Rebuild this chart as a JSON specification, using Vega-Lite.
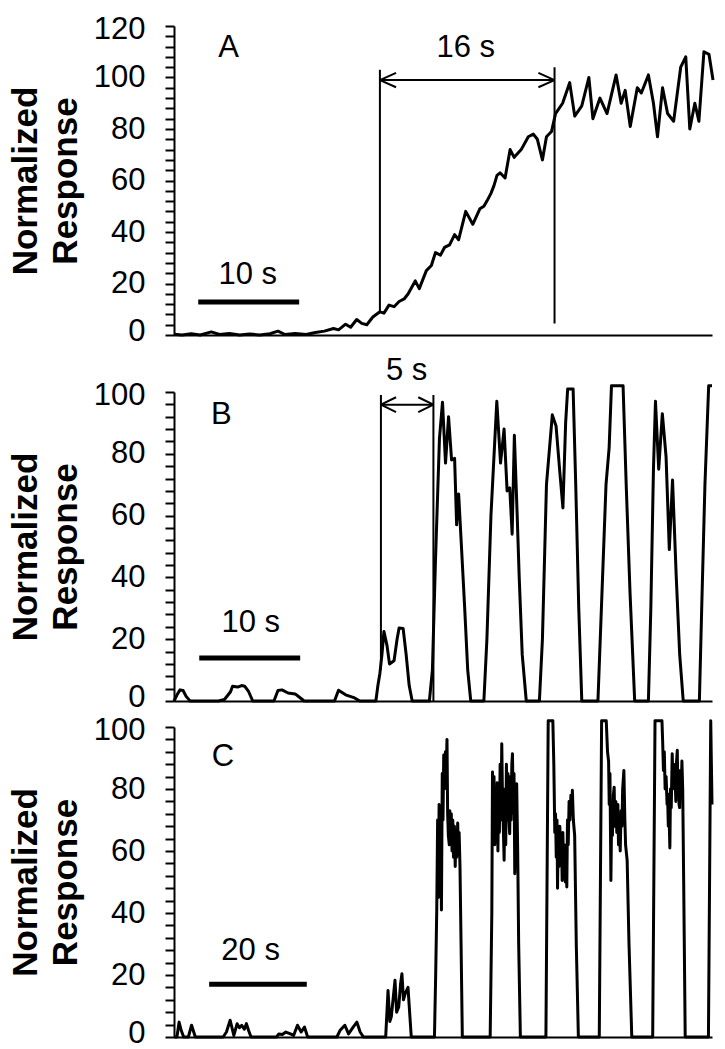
{
  "$schema": "https://vega.github.io/schema/vega-lite/v6.json",
  "background": "white",
  "padding": {"left": 8, "top": 13, "right": 5, "bottom": 0},
  "spacing": 57,
  "bounds": "flush",
  "config": {
    "view": {"stroke": null},
    "font": "Liberation Sans",
    "axis": {"grid": false, "domainColor": "black", "domainWidth": 2, "tickColor": "black", "tickWidth": 2, "labelColor": "black", "titleColor": "black"},
    "axisY": {"tickSize": 9, "tickCount": 100, "labelFontSize": 31, "labelPadding": 20, "labelOverlap": false, "labelBound": false, "labelFlush": true, "labelFlushOffset": 12, "labelFont": "Liberation Sans", "titleFont": "Liberation Sans", "titleFontSize": 35, "titleFontWeight": "bold", "titlePadding": 10, "titleLineHeight": 40},
    "axisX": {"ticks": false, "labels": false, "title": null},
    "line": {"color": "black", "strokeWidth": 3, "strokeJoin": "round", "clip": true},
    "rule": {"color": "black", "strokeWidth": 2},
    "text": {"color": "black", "fontSize": 31, "font": "Liberation Sans", "align": "center", "baseline": "middle"}
  },
  "datasets": {
    "traceA": [
      {"t":0,"v":0.3},{"t":0.8,"v":0},{"t":1.7,"v":0.5},{"t":2.6,"v":0},{"t":3.7,"v":1.2},{"t":4.5,"v":0.2},{"t":5.5,"v":0.6},{"t":6.5,"v":0},{"t":7.5,"v":0.4},{"t":8.5,"v":0},{"t":9.5,"v":0.5},{"t":10.3,"v":1.5},{"t":11,"v":0.2},{"t":12,"v":0.6},{"t":13.1,"v":0.2},{"t":14,"v":1},{"t":14.9,"v":1.5},{"t":15.8,"v":2.5},{"t":16.3,"v":2},{"t":17,"v":4.2},{"t":17.5,"v":3},{"t":18.1,"v":6},{"t":18.6,"v":4.5},{"t":19.1,"v":4},{"t":19.7,"v":7},{"t":20.4,"v":9},{"t":20.8,"v":8.5},{"t":21.3,"v":11.6},{"t":21.8,"v":11},{"t":22.3,"v":13},{"t":22.8,"v":14},{"t":23.2,"v":16},{"t":23.9,"v":21},{"t":24.3,"v":18},{"t":25,"v":25},{"t":25.5,"v":27},{"t":25.9,"v":32},{"t":26.4,"v":31},{"t":26.8,"v":34},{"t":27.3,"v":35},{"t":27.8,"v":39},{"t":28.2,"v":37},{"t":28.9,"v":48},{"t":29.6,"v":43},{"t":30.3,"v":49},{"t":30.7,"v":50},{"t":31,"v":52},{"t":31.4,"v":55},{"t":31.7,"v":58},{"t":32,"v":62},{"t":32.3,"v":63},{"t":32.8,"v":61},{"t":33.3,"v":72},{"t":33.7,"v":69},{"t":34.4,"v":72},{"t":35.1,"v":77},{"t":35.6,"v":78},{"t":36,"v":76},{"t":36.5,"v":68},{"t":36.9,"v":77},{"t":37.4,"v":79},{"t":37.8,"v":86},{"t":38.5,"v":90},{"t":39.2,"v":98},{"t":39.7,"v":85},{"t":40.4,"v":89},{"t":41.1,"v":100},{"t":41.5,"v":84},{"t":42.2,"v":92},{"t":42.9,"v":86},{"t":43.8,"v":101},{"t":44.3,"v":90},{"t":44.7,"v":95},{"t":45.2,"v":81},{"t":45.9,"v":96},{"t":46.3,"v":94},{"t":47,"v":101},{"t":47.5,"v":90},{"t":47.9,"v":77},{"t":48.4,"v":96},{"t":48.9,"v":86},{"t":49.5,"v":83},{"t":50.2,"v":104},{"t":50.7,"v":108},{"t":51.1,"v":80},{"t":51.6,"v":90},{"t":52,"v":83},{"t":52.5,"v":110},{"t":53,"v":109},{"t":53.4,"v":99}
    ],
    "traceB": [
      {"t":0,"v":0},{"t":0.3,"v":2},{"t":0.6,"v":3.6},{"t":0.9,"v":3.4},{"t":1.2,"v":1.5},{"t":1.6,"v":0},{"t":4.4,"v":0},{"t":5,"v":0.5},{"t":5.6,"v":3},{"t":5.8,"v":4.8},{"t":6.3,"v":4.5},{"t":6.7,"v":5},{"t":7,"v":4.8},{"t":7.4,"v":3},{"t":7.8,"v":0},{"t":9.9,"v":0},{"t":10.3,"v":3.4},{"t":10.7,"v":3.6},{"t":11.3,"v":2.6},{"t":12,"v":2.3},{"t":12.4,"v":1.3},{"t":12.9,"v":0},{"t":15.9,"v":0},{"t":16.3,"v":3.5},{"t":17,"v":2},{"t":17.9,"v":1},{"t":18.4,"v":0},{"t":20,"v":0},{"t":20.2,"v":5},{"t":20.4,"v":9},{"t":20.6,"v":15},{"t":20.8,"v":22.5},{"t":21.1,"v":18},{"t":21.35,"v":12},{"t":21.8,"v":13},{"t":22.1,"v":20},{"t":22.3,"v":23.6},{"t":22.7,"v":23.5},{"t":23,"v":15},{"t":23.3,"v":5},{"t":23.6,"v":0},{"t":25.3,"v":0},{"t":25.6,"v":10},{"t":25.9,"v":45},{"t":26.3,"v":85},{"t":26.6,"v":96.7},{"t":26.9,"v":77},{"t":27.2,"v":92},{"t":27.5,"v":78},{"t":27.8,"v":78.5},{"t":28,"v":57},{"t":28.2,"v":67},{"t":28.45,"v":51.7},{"t":28.8,"v":30},{"t":29.1,"v":10},{"t":29.4,"v":0},{"t":30.7,"v":0},{"t":31,"v":20},{"t":31.4,"v":60},{"t":31.98,"v":97},{"t":32.35,"v":77},{"t":32.7,"v":88},{"t":33,"v":68},{"t":33.26,"v":69},{"t":33.5,"v":54},{"t":33.72,"v":86},{"t":34,"v":60},{"t":34.2,"v":40},{"t":34.5,"v":15},{"t":34.9,"v":0},{"t":36.2,"v":0},{"t":36.5,"v":20},{"t":36.9,"v":70},{"t":37.48,"v":92.6},{"t":37.85,"v":89},{"t":38.2,"v":75},{"t":38.53,"v":62.5},{"t":38.8,"v":90},{"t":39,"v":101},{"t":39.54,"v":101},{"t":39.8,"v":70},{"t":40.1,"v":30},{"t":40.4,"v":0},{"t":42,"v":0},{"t":42.4,"v":35},{"t":42.8,"v":70},{"t":43.11,"v":82},{"t":43.34,"v":102},{"t":44.49,"v":102},{"t":44.8,"v":70},{"t":45.18,"v":35},{"t":45.64,"v":0},{"t":47,"v":0},{"t":47.24,"v":30},{"t":47.5,"v":75},{"t":47.7,"v":97},{"t":48.02,"v":75},{"t":48.38,"v":93},{"t":48.75,"v":79},{"t":49.07,"v":49},{"t":49.39,"v":71.5},{"t":49.76,"v":40},{"t":50.1,"v":15},{"t":50.45,"v":0},{"t":52.05,"v":0},{"t":52.28,"v":30},{"t":52.6,"v":70},{"t":52.97,"v":102},{"t":53.3,"v":102}
    ],
    "traceC": [
      {"t":0,"v":0},{"t":0.6,"v":0},{"t":1.04,"v":4.8},{"t":1.5,"v":2},{"t":1.99,"v":0},{"t":2.94,"v":0},{"t":3.6,"v":3.8},{"t":4.37,"v":0},{"t":10.07,"v":0},{"t":10.74,"v":1.6},{"t":11.5,"v":5.4},{"t":12.26,"v":0.5},{"t":12.93,"v":4.3},{"t":13.4,"v":3},{"t":13.88,"v":3.8},{"t":14.4,"v":2.5},{"t":14.83,"v":4.3},{"t":15.3,"v":2},{"t":15.78,"v":0},{"t":21,"v":0},{"t":21.48,"v":1},{"t":22.2,"v":0.8},{"t":22.91,"v":1.6},{"t":23.86,"v":1},{"t":24.5,"v":0.5},{"t":25.29,"v":3.8},{"t":26.05,"v":1.6},{"t":26.72,"v":3.2},{"t":27.38,"v":0},{"t":33.37,"v":0},{"t":34.04,"v":2.2},{"t":34.99,"v":3.8},{"t":35.75,"v":1},{"t":36.7,"v":3.2},{"t":37.46,"v":4.8},{"t":38.13,"v":1.6},{"t":38.8,"v":0},{"t":43.36,"v":0},{"t":43.84,"v":15},{"t":44.2,"v":5},{"t":44.51,"v":6.5},{"t":45.27,"v":18.3},{"t":45.6,"v":8},{"t":46.03,"v":9.7},{"t":46.4,"v":17},{"t":46.69,"v":20.4},{"t":47,"v":12},{"t":47.36,"v":14},{"t":47.93,"v":16},{"t":48.6,"v":0},
      {"t":53.35,"v":0},{"t":53.6,"v":20},{"t":53.82,"v":41},{"t":54,"v":70},{"t":54.15,"v":45},{"t":54.3,"v":75},{"t":54.45,"v":50},{"t":54.6,"v":72},{"t":54.78,"v":41},{"t":54.95,"v":85},{"t":55.1,"v":70},{"t":55.25,"v":91},{"t":55.4,"v":80},{"t":55.6,"v":92},{"t":55.75,"v":85},{"t":55.92,"v":96},{"t":56.05,"v":72},{"t":56.2,"v":65},{"t":56.39,"v":62},{"t":56.5,"v":73},{"t":56.65,"v":64},{"t":56.8,"v":72},{"t":56.95,"v":60},{"t":57.1,"v":70},{"t":57.25,"v":58},{"t":57.44,"v":68},{"t":57.6,"v":55},{"t":57.75,"v":66},{"t":57.9,"v":58},{"t":58.11,"v":69},{"t":58.25,"v":60},{"t":58.4,"v":66},{"t":58.58,"v":55},{"t":58.8,"v":30},{"t":59.06,"v":0},
      {"t":64.76,"v":0},{"t":65.1,"v":40},{"t":65.24,"v":85.5},{"t":65.4,"v":70},{"t":65.55,"v":84},{"t":65.7,"v":62},{"t":65.91,"v":78},{"t":66.05,"v":65},{"t":66.2,"v":82},{"t":66.35,"v":60},{"t":66.48,"v":80},{"t":66.65,"v":66},{"t":66.8,"v":88},{"t":66.95,"v":70},{"t":67.14,"v":94.6},{"t":67.3,"v":75},{"t":67.45,"v":68},{"t":67.62,"v":57},{"t":67.8,"v":80},{"t":67.95,"v":62},{"t":68.09,"v":88},{"t":68.25,"v":70},{"t":68.4,"v":85},{"t":68.55,"v":72},{"t":68.76,"v":65.6},{"t":68.9,"v":84},{"t":69.05,"v":70},{"t":69.2,"v":88},{"t":69.33,"v":91.4},{"t":69.5,"v":72},{"t":69.65,"v":85},{"t":69.8,"v":52.7},{"t":69.95,"v":75},{"t":70.1,"v":60},{"t":70.19,"v":81.7},{"t":70.4,"v":60},{"t":70.6,"v":30},{"t":70.95,"v":0},
      {"t":76.18,"v":0},{"t":76.65,"v":102},{"t":77.6,"v":102},{"t":77.8,"v":88},{"t":78,"v":66},{"t":78.15,"v":72},{"t":78.3,"v":58},{"t":78.45,"v":70},{"t":78.56,"v":48},{"t":78.7,"v":66},{"t":78.85,"v":55},{"t":79.03,"v":68},{"t":79.2,"v":58},{"t":79.35,"v":65},{"t":79.51,"v":50.5},{"t":79.65,"v":66},{"t":79.8,"v":55},{"t":79.98,"v":62},{"t":80.15,"v":50},{"t":80.3,"v":60},{"t":80.46,"v":48.4},{"t":80.6,"v":70},{"t":80.75,"v":62},{"t":80.93,"v":76},{"t":81.1,"v":70},{"t":81.3,"v":78},{"t":81.45,"v":72},{"t":81.6,"v":79.6},{"t":81.8,"v":70},{"t":82.07,"v":65},{"t":82.4,"v":30},{"t":82.83,"v":0},
      {"t":87.11,"v":0},{"t":87.59,"v":102},{"t":88.54,"v":102},{"t":88.8,"v":92},{"t":89.02,"v":89},{"t":89.15,"v":75},{"t":89.3,"v":85},{"t":89.49,"v":50.5},{"t":89.65,"v":72},{"t":89.8,"v":65},{"t":90,"v":78},{"t":90.16,"v":80.6},{"t":90.3,"v":68},{"t":90.5,"v":76},{"t":90.7,"v":66},{"t":90.92,"v":75},{"t":91.05,"v":62},{"t":91.2,"v":70},{"t":91.4,"v":60},{"t":91.58,"v":73},{"t":91.75,"v":68},{"t":91.9,"v":80},{"t":92.15,"v":86},{"t":92.35,"v":70},{"t":92.5,"v":62},{"t":92.82,"v":57},{"t":93.2,"v":30},{"t":93.77,"v":0},
      {"t":98.05,"v":0},{"t":98.53,"v":102},{"t":99.95,"v":102},{"t":100.1,"v":95},{"t":100.25,"v":86},{"t":100.43,"v":92},{"t":100.6,"v":80},{"t":100.8,"v":84},{"t":101,"v":75},{"t":101.09,"v":78.5},{"t":101.25,"v":68},{"t":101.4,"v":72},{"t":101.57,"v":61},{"t":101.7,"v":80},{"t":101.85,"v":74},{"t":102.05,"v":91.4},{"t":102.2,"v":82},{"t":102.35,"v":88},{"t":102.5,"v":80},{"t":102.62,"v":84},{"t":102.8,"v":76},{"t":102.9,"v":88},{"t":103.09,"v":92.5},{"t":103.2,"v":80},{"t":103.35,"v":86},{"t":103.45,"v":75},{"t":103.57,"v":74},{"t":103.7,"v":86},{"t":103.85,"v":78},{"t":104.04,"v":89},{"t":104.2,"v":80},{"t":104.4,"v":50},{"t":104.71,"v":0},
      {"t":109.47,"v":0},{"t":109.94,"v":102},{"t":110.2,"v":75}
    ],
    "linesA": [
      {"t":20.4,"v":103,"t2":20.4,"v2":8.5},
      {"t":37.7,"v":104,"t2":37.7,"v2":4.5},
      {"t":20.4,"v":99,"t2":37.7,"v2":99},
      {"t":20.4,"v":99,"t2":22.0,"v2":101.8},
      {"t":20.4,"v":99,"t2":22.0,"v2":96.2},
      {"t":37.7,"v":99,"t2":36.1,"v2":101.8},
      {"t":37.7,"v":99,"t2":36.1,"v2":96.2}
    ],
    "linesB": [
      {"t":20.5,"v":99,"t2":20.5,"v2":10},
      {"t":25.7,"v":99,"t2":25.7,"v2":0},
      {"t":20.5,"v":95.9,"t2":25.7,"v2":95.9},
      {"t":20.5,"v":95.9,"t2":22.0,"v2":98.3},
      {"t":20.5,"v":95.9,"t2":22.0,"v2":93.5},
      {"t":25.7,"v":95.9,"t2":24.2,"v2":98.3},
      {"t":25.7,"v":95.9,"t2":24.2,"v2":93.5}
    ],
    "barA": [{"t":2.4,"t2":12.4,"v":12.8}],
    "barB": [{"t":2.5,"t2":12.5,"v":13.9}],
    "barC": [{"t":7.2,"t2":27.2,"v":17}],
    "textA": [{"t":5.4,"v":111.5,"label":"A"},{"t":28.9,"v":111.5,"label":"16 s"},{"t":7.3,"v":23.3,"label":"10 s"}],
    "textB": [{"t":4.7,"v":92.6,"label":"B"},{"t":23.05,"v":106.8,"label":"5 s"},{"t":7.6,"v":25.2,"label":"10 s"}],
    "textC": [{"t":10,"v":90.3,"label":"C"},{"t":15.7,"v":27.7,"label":"20 s"}]
  },
  "vconcat": [
    {
      "width": 538,
      "height": 309,
      "layer": [
        {
          "data": {"name": "traceA"},
          "mark": {"type": "line"},
          "encoding": {
            "x": {"field": "t", "type": "quantitative", "scale": {"domain": [0, 53.3], "nice": false, "zero": false}, "axis": {"title": null}},
            "y": {"field": "v", "type": "quantitative", "scale": {"domain": [0, 120], "nice": false}, "axis": {"title": ["Normalized", "Response"], "values": [0,4,8,12,16,20,24,28,32,36,40,44,48,52,56,60,64,68,72,76,80,84,88,92,96,100,104,108,112,116,120], "labelExpr": "datum.value % 20 === 0 ? datum.label : ''"}}
          }
        },
        {
          "data": {"name": "linesA"},
          "mark": {"type": "rule", "clip": false},
          "encoding": {"x": {"field": "t", "type": "quantitative"}, "x2": {"field": "t2"}, "y": {"field": "v", "type": "quantitative"}, "y2": {"field": "v2"}}
        },
        {
          "data": {"name": "barA"},
          "mark": {"type": "rule", "strokeWidth": 5},
          "encoding": {"x": {"field": "t", "type": "quantitative"}, "x2": {"field": "t2"}, "y": {"field": "v", "type": "quantitative"}}
        },
        {
          "data": {"name": "textA"},
          "mark": {"type": "text"},
          "encoding": {"x": {"field": "t", "type": "quantitative"}, "y": {"field": "v", "type": "quantitative"}, "text": {"field": "label"}}
        }
      ]
    },
    {
      "spacing": 26,
      "bounds": "flush",
      "vconcat": [
        {
          "width": 538,
          "height": 309,
          "layer": [
            {
              "data": {"name": "traceB"},
              "mark": {"type": "line"},
              "encoding": {
                "x": {"field": "t", "type": "quantitative", "scale": {"domain": [0, 53.3], "nice": false, "zero": false}, "axis": {"title": null}},
                "y": {"field": "v", "type": "quantitative", "scale": {"domain": [0, 100], "nice": false}, "axis": {"title": ["Normalized", "Response"], "values": [0,4,8,12,16,20,24,28,32,36,40,44,48,52,56,60,64,68,72,76,80,84,88,92,96,100], "labelExpr": "datum.value % 20 === 0 ? datum.label : ''"}}
              }
            },
            {
              "data": {"name": "linesB"},
              "mark": {"type": "rule", "clip": false},
              "encoding": {"x": {"field": "t", "type": "quantitative"}, "x2": {"field": "t2"}, "y": {"field": "v", "type": "quantitative"}, "y2": {"field": "v2"}}
            },
            {
              "data": {"name": "barB"},
              "mark": {"type": "rule", "strokeWidth": 5},
              "encoding": {"x": {"field": "t", "type": "quantitative"}, "x2": {"field": "t2"}, "y": {"field": "v", "type": "quantitative"}}
            },
            {
              "data": {"name": "textB"},
              "mark": {"type": "text", "clip": false},
              "encoding": {"x": {"field": "t", "type": "quantitative"}, "y": {"field": "v", "type": "quantitative"}, "text": {"field": "label"}}
            }
          ]
        },
        {
          "width": 538,
          "height": 310,
          "layer": [
            {
              "data": {"name": "traceC"},
              "mark": {"type": "line"},
              "encoding": {
                "x": {"field": "t", "type": "quantitative", "scale": {"domain": [0, 110.2], "nice": false, "zero": false}, "axis": {"title": null}},
                "y": {"field": "v", "type": "quantitative", "scale": {"domain": [0, 100], "nice": false}, "axis": {"title": ["Normalized", "Response"], "values": [0,4,8,12,16,20,24,28,32,36,40,44,48,52,56,60,64,68,72,76,80,84,88,92,96,100], "labelExpr": "datum.value % 20 === 0 ? datum.label : ''"}}
              }
            },
            {
              "data": {"name": "barC"},
              "mark": {"type": "rule", "strokeWidth": 5},
              "encoding": {"x": {"field": "t", "type": "quantitative"}, "x2": {"field": "t2"}, "y": {"field": "v", "type": "quantitative"}}
            },
            {
              "data": {"name": "textC"},
              "mark": {"type": "text"},
              "encoding": {"x": {"field": "t", "type": "quantitative"}, "y": {"field": "v", "type": "quantitative"}, "text": {"field": "label"}}
            }
          ]
        }
      ]
    }
  ]
}
